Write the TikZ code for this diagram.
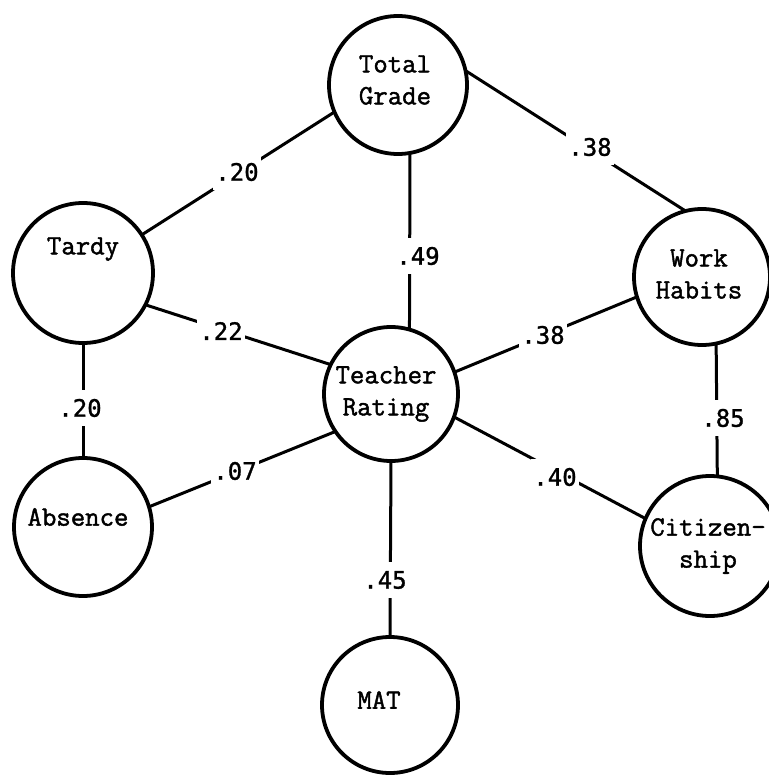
\documentclass[tikz,border=0pt]{standalone}
\usepackage{fontspec}
\newfontfamily\numfont{DejaVu Sans Mono}[FakeBold=1.2]
\newfontfamily\typefont{Latin Modern Mono}[FakeBold=1.6]
\begin{document}
\begin{tikzpicture}[x=1pt,y=-1pt,
  circ/.style={circle, draw, line width=3.8pt, minimum size=138pt, inner sep=0pt, outer sep=0pt},
  conn/.style={line width=3pt},
  lbl/.style={fill=white, inner xsep=2pt, inner ysep=9pt, font=\numfont\fontsize{24}{28}\selectfont},
  txt/.style={font=\typefont\fontsize{28}{32}\selectfont, align=center, inner sep=0pt}]
\useasboundingbox (0,0) rectangle (768,775);

% circles
\node[circ, label={[txt, xshift=-3pt, yshift=5pt]center:Total\\Grade}] (TG) at (398,85) {};
\node[circ, minimum size=140pt, label={[txt, yshift=24pt]center:Tardy}] (Tardy) at (83,273) {};
\node[circ, minimum size=136pt, label={[txt, xshift=-3pt, yshift=3pt]center:Work\\Habits}] (WH) at (702,277) {};
\node[circ, minimum size=134pt, label={[txt, xshift=-5pt]center:Teacher\\Rating}] (TR) at (391,394) {};
\node[circ, label={[txt, xshift=-5pt, yshift=10pt]center:Absence}] (Abs) at (83,527) {};
\node[circ, minimum size=140pt, label={[txt, xshift=-2pt]center:Citizen-\\ship}] (Cit) at (710,546) {};
\node[circ, minimum size=136pt, label={[txt, xshift=-11pt, yshift=5pt]center:MAT}] (MAT) at (390,705) {};

% connectors
\draw[conn] (TG.203) -- (Tardy.33);
\draw[conn] (TG.12) -- (WH.104);
\draw[conn] (TG.-80) -- (TR.74);
\draw[conn] (Tardy.-27) -- (TR.154);
\draw[conn] (Tardy.south) -- (Abs.north);
\draw[conn] (Abs.17) -- (TR.214);
\draw[conn] (TR.19) -- (WH.197);
\draw[conn] (TR.-20) -- (Cit.157);
\draw[conn] (WH.-78) -- (Cit.84);
\draw[conn] (TR.south) -- (MAT.north);

% coefficient labels
\node[lbl] (l1) at (237,172) {.20};
\node[lbl] (l2) at (590,147) {.38};
\node[lbl] (l3) at (418,256) {.49};
\node[lbl] (l4) at (221,331) {.22};
\node[lbl] (l5) at (80,408) {.20};
\node[lbl] (l6) at (235,471) {.07};
\node[lbl] (l7) at (543,335) {.38};
\node[lbl] (l8) at (555,477) {.40};
\node[lbl] (l9) at (723,418) {.85};
\node[lbl] (l10) at (385,580) {.45};
\end{tikzpicture}
\end{document}
